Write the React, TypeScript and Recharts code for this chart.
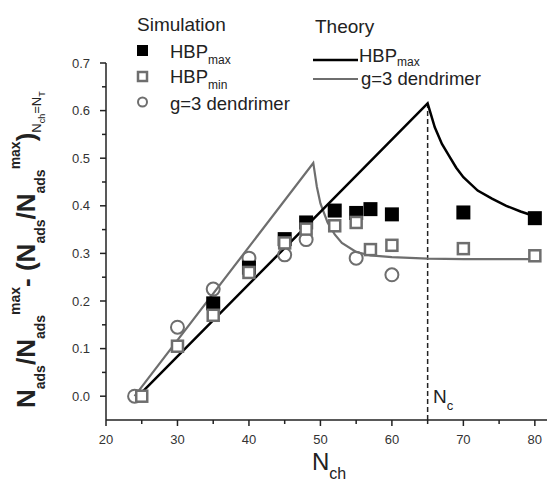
import React from 'react';
import {
    ComposedChart,
    Line,
    Scatter,
    XAxis,
    YAxis,
    ReferenceLine,
} from 'recharts';

// simulation points
const hbpMaxN = [35, 40, 45, 48, 52, 55, 57, 60, 70, 80];
const hbpMaxVal = [0.195, 0.27, 0.33, 0.365, 0.39, 0.385, 0.393, 0.382, 0.386, 0.374];

const hbpMinN = [25, 30, 35, 40, 45, 48, 52, 55, 57, 60, 70, 80];
const hbpMinVal = [0, 0.105, 0.17, 0.26, 0.322, 0.351, 0.358, 0.365, 0.308, 0.317, 0.31, 0.295];

const dendN = [24, 30, 35, 40, 45, 48, 55, 60];
const dendVal = [0, 0.145, 0.225, 0.29, 0.297, 0.329, 0.29, 0.255];

// theory curves
const theoryMaxN = [24.5, 65, 65.5, 66, 67, 68, 69, 70, 72, 74, 76, 78, 80];
const theoryMaxVal = [0, 0.615, 0.59, 0.565, 0.53, 0.505, 0.48, 0.46, 0.432, 0.415, 0.4, 0.388, 0.378];

const theoryDendN = [24, 49, 49.5, 50, 51, 52, 53, 55, 57, 60, 65, 70, 80];
const theoryDendVal = [0, 0.49, 0.44, 0.405, 0.365, 0.34, 0.322, 0.303, 0.296, 0.292, 0.289, 0.288, 0.288];

const nCritical = 65;
const nCriticalTop = 0.615;

// axes
const xTicks = [20, 25, 30, 35, 40, 45, 50, 55, 60, 65, 70, 75, 80];
const yTicks = [0, 0.05, 0.1, 0.15, 0.2, 0.25, 0.3, 0.35, 0.4, 0.45, 0.5, 0.55, 0.6, 0.65, 0.7];

const GRAY = '#6e6e6e';
const FONT = '"Liberation Sans", Arial, sans-serif';

const toPoints = (xs: number[], ys: number[]) => xs.map((x, i) => ({ x, y: ys[i] }));

const hbpMaxData = toPoints(hbpMaxN, hbpMaxVal);
const hbpMinData = toPoints(hbpMinN, hbpMinVal);
const dendData = toPoints(dendN, dendVal);
const theoryMaxData = toPoints(theoryMaxN, theoryMaxVal);
const theoryDendData = toPoints(theoryDendN, theoryDendVal);

const isMajor = (v: number, step: number) => Math.abs(v / step - Math.round(v / step)) < 1e-6;

const XTick = (props: any) => {
    const { x, y, payload } = props;
    const major = isMajor(payload.value, 10);
    return (
        <g>
            <line x1={x} x2={x} y1={y} y2={y + (major ? 6 : 4)} stroke="#222" strokeWidth={1.5} />
            {major && (
                <text x={x} y={y + 24} textAnchor="middle" fontSize={13} fill="#333" fontFamily={FONT}>
                    {payload.value}
                </text>
            )}
        </g>
    );
};

const YTick = (props: any) => {
    const { x, y, payload } = props;
    const major = isMajor(payload.value, 0.1);
    return (
        <g>
            <line x1={x} x2={x - (major ? 6 : 4)} y1={y} y2={y} stroke="#222" strokeWidth={1.5} />
            {major && (
                <text x={x - 16} y={y + 4.5} textAnchor="end" fontSize={13} fill="#333" fontFamily={FONT}>
                    {payload.value.toFixed(1)}
                </text>
            )}
        </g>
    );
};

const FilledSquare = (props: any) => (
    <rect x={props.cx - 7} y={props.cy - 7} width={14} height={14} fill="#000" />
);

const OpenSquare = (props: any) => (
    <rect x={props.cx - 5.5} y={props.cy - 5.5} width={11} height={11} fill="#fff" stroke={GRAY} strokeWidth={2.5} />
);

const OpenCircle = (props: any) => (
    <circle cx={props.cx} cy={props.cy} r={6.5} fill="none" stroke={GRAY} strokeWidth={2} />
);

// legend, axis titles and the N_c label
const Overlay = () => (
    <svg width={547} height={482} style={{ position: 'absolute', left: 0, top: 0, pointerEvents: 'none' }} fontFamily={FONT}>
        <text x={137} y={31} fontSize={19} fill="#222">Simulation</text>
        <rect x={137} y={45} width={11} height={11} fill="#000" />
        <text x={170} y={58} fontSize={18.5} fill="#222">HBP<tspan dy={6} fontSize={12}>max</tspan></text>
        <rect x={138} y={72} width={9} height={9} fill="#fff" stroke={GRAY} strokeWidth={2.5} />
        <text x={170} y={83} fontSize={18.5} fill="#222">HBP<tspan dy={6} fontSize={12}>min</tspan></text>
        <circle cx={142.5} cy={102} r={4.5} fill="none" stroke={GRAY} strokeWidth={2} />
        <text x={170} y={110} fontSize={18.5} fill="#222">g=3 dendrimer</text>

        <text x={315} y={33} fontSize={19} fill="#222">Theory</text>
        <line x1={313} x2={358} y1={60} y2={60} stroke="#000" strokeWidth={2.5} />
        <text x={359} y={62} fontSize={18.5} fill="#222">HBP<tspan dy={4} fontSize={12}>max</tspan></text>
        <line x1={313} x2={358} y1={79} y2={79} stroke={GRAY} strokeWidth={2} />
        <text x={361} y={85} fontSize={18.5} fill="#222">g=3 dendrimer</text>

        <text x={433} y={403} fontSize={19} fill="#222">N<tspan dy={7} fontSize={13}>c</tspan></text>

        <text x={312} y={470} fontSize={24} fill="#222">N<tspan dy={9} fontSize={16}>ch</tspan></text>

        <text transform="translate(35, 408) rotate(-90)" fontSize={26} fontWeight="bold" fill="#222">
            N<tspan dy={10} fontSize={14}>ads</tspan>
            <tspan dy={-10}>/N</tspan>
            <tspan dy={10} fontSize={14}>ads</tspan>
            <tspan dy={-25} fontSize={14}>max</tspan>
            <tspan dy={15}>- (N</tspan>
            <tspan dy={10} fontSize={14}>ads</tspan>
            <tspan dy={-10}>/N</tspan>
            <tspan dy={10} fontSize={14}>ads</tspan>
            <tspan dy={-25} fontSize={14}>max</tspan>
            <tspan dy={15}>)</tspan>
            <tspan dy={6} fontSize={13} fontWeight="normal">N</tspan>
            <tspan dy={4} fontSize={9} fontWeight="normal">ch</tspan>
            <tspan dy={-4} fontSize={13} fontWeight="normal">=N</tspan>
            <tspan dy={4} fontSize={9} fontWeight="normal">T</tspan>
        </text>
    </svg>
);

export default function App() {
    return (
        <div style={{ position: 'absolute', left: 0, top: 0, width: 547, height: 482, background: '#fff' }}>
            <ComposedChart width={547} height={482} margin={{ top: 63, right: 0, bottom: 0, left: 0 }}>
                <XAxis
                    type="number"
                    dataKey="x"
                    domain={[20, 81.7]}
                    allowDataOverflow
                    ticks={xTicks}
                    interval={0}
                    tickSize={0}
                    tickMargin={0}
                    tickLine={false}
                    tick={<XTick />}
                    axisLine={{ stroke: '#222', strokeWidth: 1.5 }}
                    height={62}
                />
                <YAxis
                    type="number"
                    dataKey="y"
                    domain={[-0.05, 0.7]}
                    allowDataOverflow
                    ticks={yTicks}
                    interval={0}
                    tickSize={0}
                    tickMargin={0}
                    tickLine={false}
                    tick={<YTick />}
                    axisLine={{ stroke: '#222', strokeWidth: 1.5 }}
                    width={106}
                />
                <ReferenceLine
                    segment={[{ x: nCritical, y: -0.05 }, { x: nCritical, y: nCriticalTop }]}
                    stroke="#222"
                    strokeWidth={1.5}
                    strokeDasharray="5 3"
                    ifOverflow="visible"
                />
                <Line data={theoryDendData} dataKey="y" type="linear" stroke={GRAY} strokeWidth={2.2} dot={false} isAnimationActive={false} />
                <Line data={theoryMaxData} dataKey="y" type="linear" stroke="#000" strokeWidth={2.5} dot={false} isAnimationActive={false} />
                <Scatter data={dendData} dataKey="y" shape={<OpenCircle />} isAnimationActive={false} />
                <Scatter data={hbpMaxData} dataKey="y" shape={<FilledSquare />} isAnimationActive={false} />
                <Scatter data={hbpMinData} dataKey="y" shape={<OpenSquare />} isAnimationActive={false} />
            </ComposedChart>
            <Overlay />
        </div>
    );
}
